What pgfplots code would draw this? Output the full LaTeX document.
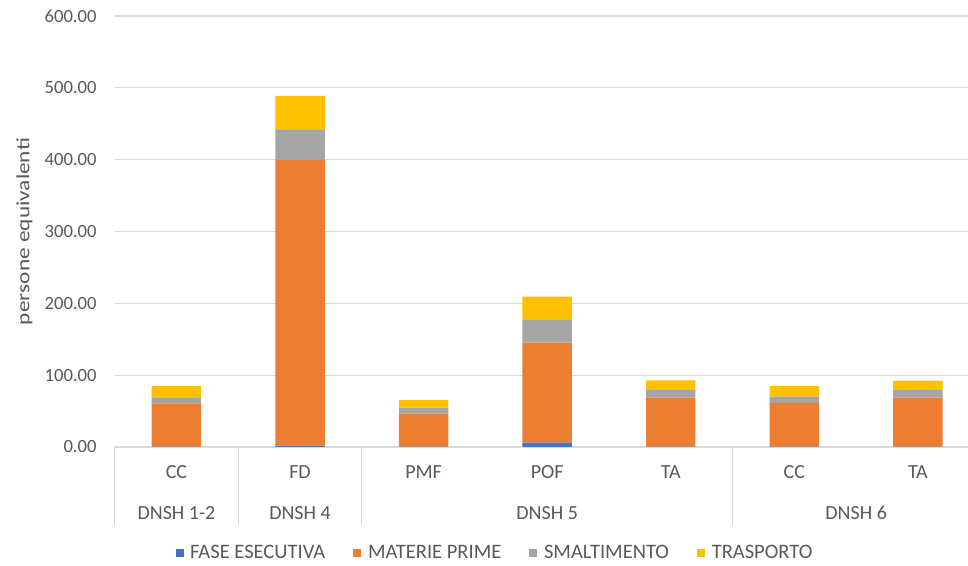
\documentclass[border=0pt]{standalone}
\usepackage{fontspec}
\setmainfont{Carlito}
\usepackage{pgfplots}
\pgfplotsset{compat=1.18}
\usepackage{pgfplotstable}

\definecolor{txt}{HTML}{595959}
\definecolor{gridc}{HTML}{D9D9D9}
\definecolor{cFE}{HTML}{4472C4}
\definecolor{cMP}{HTML}{ED7D31}
\definecolor{cSM}{HTML}{A5A5A5}
\definecolor{cTR}{HTML}{FFC000}

% impacts per criterion, in equivalent persons
\pgfplotstableread{
x  FE   MP     SM    TR
0  0.5  60.3   8.4   15.7
1  2.0  397.6  42.7  46.4
2  0.5  45.9   8.3   10.7
3  6.0  139.2  32.6  31.5
4  0.5  68.1   11.7  12.5
5  0.5  60.8   8.7   14.9
6  0.5  68.1   11.7  12.1
}\impacts

\newcommand{\tickfont}{\fontsize{14}{17}\selectfont}
\newcommand{\catfont}{\fontsize{15}{18}\selectfont}
\newcommand{\legfont}{\fontsize{15.4}{18}\selectfont}

\begin{document}
\begin{tikzpicture}
\path[use as bounding box] (-86.0pt,-89.25pt) rectangle (640.0pt,335.25pt);
\clip (-86.0pt,-89.25pt) rectangle (640.0pt,335.25pt);
\begin{axis}[
  scale only axis,
  width=648.8pt, height=323.25pt,
  ybar stacked, bar width=0.4,
  xmin=-0.5, xmax=6.5,
  ymin=0, ymax=600,
  ytick={0,100,...,600},
  xtick=data,
  xticklabels={CC,FD,PMF,POF,TA,CC,TA},
  axis line style={draw=none},
  major tick length=0pt,
  xmajorgrids=false,
  ymajorgrids=true,
  major grid style={draw=gridc, line width=0.9pt},
  clip=false,
  /pgf/number format/.cd, fixed, fixed zerofill, precision=2, assume math mode=true,
  /pgfplots/.cd,
  every tick label/.append style={text=txt},
  yticklabel style={font=\tickfont, xshift=-10pt},
  xticklabel style={font=\catfont, anchor=center, yshift=-18.75pt},
  ylabel={persone equivalenti},
  every axis y label/.style={at={(axis description cs:-0.1043,0.5)}, rotate=90, xscale=1.25,
    anchor=center, font=\tickfont, text=txt},
  legend columns=4,
  legend style={at={(axis description cs:0.440,-0.246)}, anchor=center, draw=none, fill=none,
    font=\legfont, text=txt,
    /tikz/every odd column/.append style={column sep=3pt},
    /tikz/every even column/.append style={column sep=19pt}},
  every axis plot/.append style={draw=none,
    legend image code/.code={\fill[##1] (0pt,-3pt) rectangle (6pt,3pt);}},
]
\addplot[fill=cFE] table[x=x, y=FE] {\impacts};
\addplot[fill=cMP] table[x=x, y=MP] {\impacts};
\addplot[fill=cSM] table[x=x, y=SM] {\impacts};
\addplot[fill=cTR] table[x=x, y=TR] {\impacts};
\legend{FASE ESECUTIVA, MATERIE PRIME, SMALTIMENTO, TRASPORTO}

% separators of the category groups
\draw[gridc, line width=0.9pt] (axis cs:-0.5,0) -- ([yshift=-58.5pt]axis cs:-0.5,0);
\draw[gridc, line width=0.9pt] (axis cs:0.5,0) -- ([yshift=-58.5pt]axis cs:0.5,0);
\draw[gridc, line width=0.9pt] (axis cs:1.5,0) -- ([yshift=-58.5pt]axis cs:1.5,0);
\draw[gridc, line width=0.9pt] (axis cs:4.5,0) -- ([yshift=-58.5pt]axis cs:4.5,0);
\draw[gridc, line width=0.9pt] (axis cs:6.5,0) -- ([yshift=-58.5pt]axis cs:6.5,0);
% group labels
\node[font=\catfont, text=txt, anchor=center] at ([yshift=-49.5pt]axis cs:0,0) {DNSH 1-2};
\node[font=\catfont, text=txt, anchor=center] at ([yshift=-49.5pt]axis cs:1,0) {DNSH 4};
\node[font=\catfont, text=txt, anchor=center] at ([yshift=-49.5pt]axis cs:3,0) {DNSH 5};
\node[font=\catfont, text=txt, anchor=center] at ([yshift=-49.5pt]axis cs:5.5,0) {DNSH 6};
\end{axis}
\end{tikzpicture}
\end{document}
